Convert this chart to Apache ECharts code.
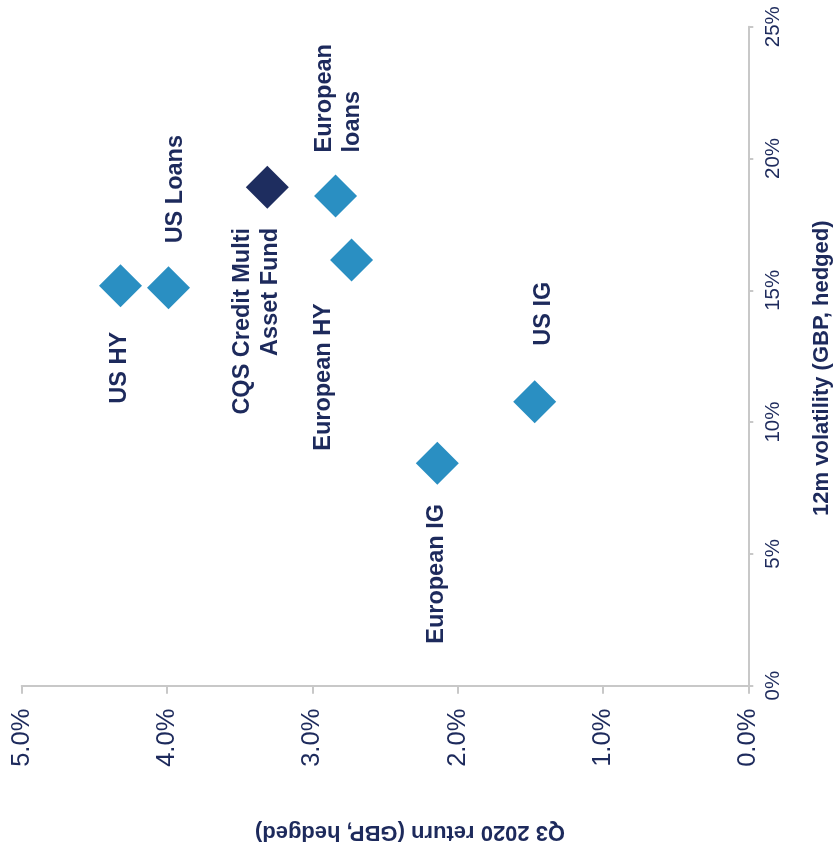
<!DOCTYPE html>
<html>
<head>
<meta charset="utf-8">
<script src="https://cdn.jsdelivr.net/npm/echarts@6/dist/echarts.min.js"></script>
<style>html,body{margin:0;padding:0;background:#fff}#c{width:835px;height:854px}</style>
</head>
<body>
<div id="c"></div>
<script>
// ---- data ----
const names = ['US HY', 'US Loans', 'CQS Credit Multi\nAsset Fund', 'European\nloans', 'European HY', 'European IG', 'US IG'];
const returns = [4.32, 3.99, 3.31, 2.84, 2.73, 2.14, 1.47];      // Q3 2020 return (%)
const volatility = [15.17, 15.10, 18.91, 18.58, 16.15, 8.44, 10.77]; // 12m volatility (%)
const isFund = [false, false, true, false, false, false, false];
const returnTicks = { min: 0, max: 5, interval: 1 };
const volTicks = { min: 0, max: 25, interval: 5 };

// ---- styles ----
const NAVY = '#1d2a5c';
const LIGHT = '#2a8fc2';
const DARK = '#1e2d5f';
const AXIS = '#c8c8c8';
const FONT = '"Liberation Sans", Arial, sans-serif';
// screen-space label shifts [dx, dy] and alignment
const labelShift = [[-1.5, 82], [7, -98.5], [-10.7, 40.7], [3, -43.5], [-28, 117], [-0.7, 110.7], [8.7, -88]];
const labelAlign = ['center', 'center', 'right', 'left', 'center', 'center', 'center'];

const data = names.map((n, i) => ({
  name: n,
  value: [returns[i], volatility[i]],
  itemStyle: { color: isFund[i] ? DARK : LIGHT, opacity: 1 },
  label: {
    align: labelAlign[i],
    // label rotated 90deg: local offset = [-sy, sx]
    offset: [-labelShift[i][1], labelShift[i][0]]
  }
}));

const chart = echarts.init(document.getElementById('c'));
chart.setOption({
  animation: false,
  textStyle: { fontFamily: FONT },
  grid: { left: 21.7, right: 86.7, top: 26.7, bottom: 168.3, containLabel: false, outerBoundsMode: 'none' },
  xAxis: {
    type: 'value', position: 'bottom', inverse: true,
    min: returnTicks.min, max: returnTicks.max, interval: returnTicks.interval,
    name: 'Q3 2020 return (GBP, hedged)', nameLocation: 'middle', nameRotate: 180, nameGap: 135,
    nameTextStyle: { color: NAVY, fontSize: 22, fontWeight: 'bold', fontFamily: FONT, padding: [0, 50, 0, 0] },
    axisLine: { show: true, lineStyle: { color: AXIS, width: 2 } },
    axisTick: { show: true, length: 8, lineStyle: { color: AXIS, width: 2 } },
    axisLabel: { rotate: 90, margin: 23, color: NAVY, fontSize: 25.5, fontFamily: FONT,
      formatter: v => v.toFixed(1) + '%' },
    splitLine: { show: false }
  },
  yAxis: {
    type: 'value', position: 'right',
    min: volTicks.min, max: volTicks.max, interval: volTicks.interval,
    name: '12m volatility (GBP, hedged)', nameLocation: 'middle', nameRotate: 90, nameGap: 63,
    nameTextStyle: { color: NAVY, fontSize: 22, fontWeight: 'bold', fontFamily: FONT, padding: [0, 24, 0, 0] },
    axisLine: { show: true, lineStyle: { color: AXIS, width: 2 } },
    axisTick: { show: true, length: 5, lineStyle: { color: AXIS, width: 2 } },
    axisLabel: { rotate: 90, margin: 15, color: NAVY, fontSize: 20.5, fontFamily: FONT,
      formatter: v => v + '%' },
    splitLine: { show: false }
  },
  series: [{
    type: 'scatter',
    symbol: 'diamond',
    symbolSize: 43,
    itemStyle: { opacity: 1 },
    data: data,
    label: {
      show: true, position: 'inside', rotate: 90,
      formatter: p => p.name,
      color: NAVY, fontSize: 23.5, fontWeight: 'bold', fontFamily: FONT,
      lineHeight: 28, verticalAlign: 'middle', opacity: 1
    },
    emphasis: { disabled: true }
  }]
});
</script>
</body>
</html>
